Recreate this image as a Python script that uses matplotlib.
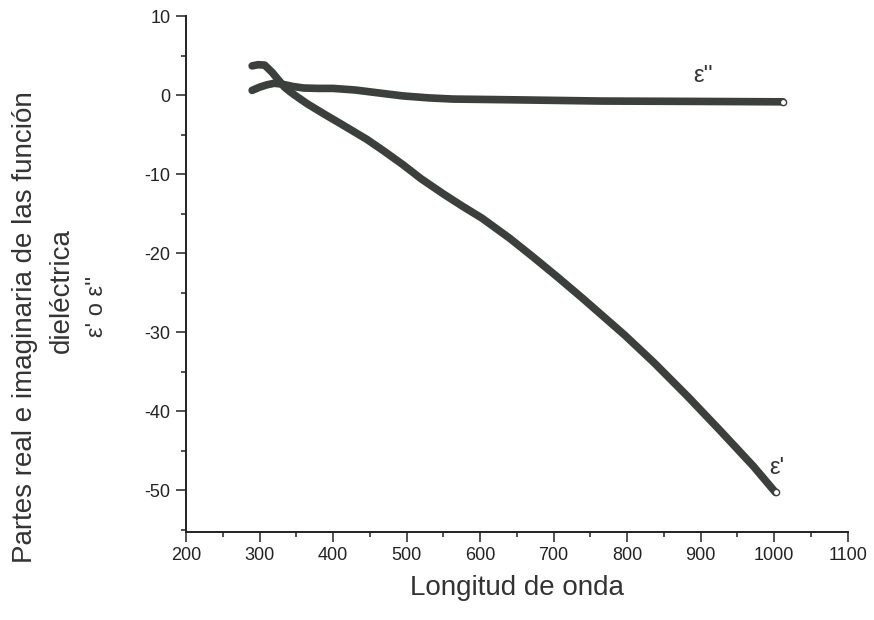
import matplotlib
matplotlib.use('Agg')
import matplotlib.pyplot as plt
from matplotlib.ticker import MultipleLocator

plt.rcParams['font.family'] = ['Liberation Sans', 'DejaVu Sans']
plt.rcParams['axes.unicode_minus'] = False

# wavelength / dielectric function values
lam_real = [290, 298, 307, 317, 326, 334, 342, 351, 365, 388, 410, 428, 446,
            468, 495, 520, 550, 575, 603, 640, 671, 705, 738, 770, 797, 837,
            883, 927, 972, 1002]
eps_real = [3.7, 3.85, 3.8, 2.9, 1.9, 1.0, 0.4, -0.2, -1.1, -2.4, -3.6, -4.6,
            -5.6, -7.0, -8.8, -10.6, -12.5, -14.0, -15.6, -18.1, -20.4, -23.0,
            -25.6, -28.2, -30.4, -33.9, -38.2, -42.5, -47.0, -50.3]

lam_imag = [290, 300, 310, 320, 330, 345, 360, 380, 400, 430, 460, 495, 530,
            563, 650, 765, 900, 1012]
eps_imag = [0.6, 1.0, 1.3, 1.5, 1.4, 1.1, 0.9, 0.85, 0.85, 0.65, 0.3, -0.1,
            -0.35, -0.5, -0.6, -0.75, -0.8, -0.85]

line_col = '#3b403d'

fig = plt.figure(figsize=(8.74, 6.2), dpi=100)
ax = fig.add_axes([0.2128, 0.142, 0.757, 0.832])

for lam, eps in [(lam_real, eps_real), (lam_imag, eps_imag)]:
    ax.plot(lam, eps, color=line_col, lw=5.5, solid_capstyle='round',
            solid_joinstyle='round')
    ax.plot(lam[-1], eps[-1], 'o', ms=4.5, mfc='white', mec=line_col, mew=1)

ax.text(904, 2.4, "ε''", fontsize=17, ha='center', va='center', color='#333333')
ax.text(1004, -47.2, "ε'", fontsize=17, ha='center', va='center', color='#333333')

ax.set_xlim(200, 1100)
ax.set_ylim(-55.3, 10)
ax.xaxis.set_major_locator(MultipleLocator(100))
ax.xaxis.set_minor_locator(MultipleLocator(50))
ax.yaxis.set_major_locator(MultipleLocator(10))
ax.yaxis.set_minor_locator(MultipleLocator(5))
ax.spines['top'].set_visible(False)
ax.spines['right'].set_visible(False)
for s in ['left', 'bottom']:
    ax.spines[s].set_linewidth(1.4)
    ax.spines[s].set_color('#222222')
ax.tick_params(which='major', length=7, width=1.1, labelsize=13, pad=4,
               colors='#222222')
ax.tick_params(which='minor', length=3.6, width=1.1, colors='#222222')

ax.set_xlabel('Longitud de onda', fontsize=20, color='#333333', labelpad=8)

fig.text(0.029, 0.472, 'Partes real e imaginaria de las función', rotation=90,
         fontsize=20, ha='center', va='center', color='#333333')
fig.text(0.071, 0.532, 'dieléctrica', rotation=90,
         fontsize=20, ha='center', va='center', color='#333333')
fig.text(0.111, 0.506, "ε' o ε''", rotation=90,
         fontsize=17, ha='center', va='center', color='#333333')

fig.savefig('out.png', dpi=100, facecolor='white')
